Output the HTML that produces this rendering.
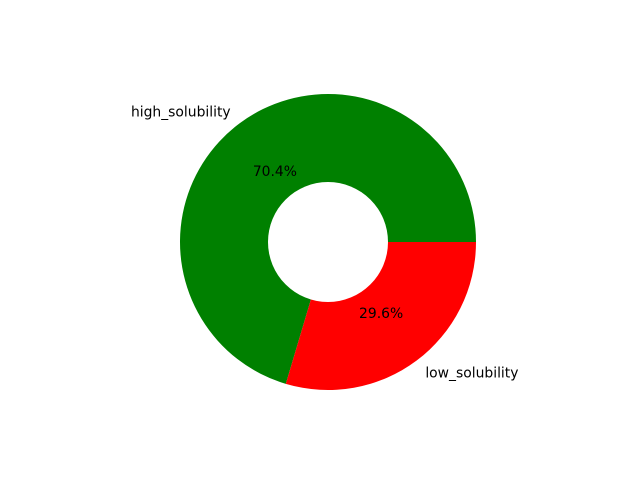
<!DOCTYPE html>
<html>
<head>
<meta charset="utf-8">
<style>
  html, body { margin: 0; padding: 0; background: #ffffff; }
  svg { display: block; }
  text { font-family: "DejaVu Sans", "Liberation Sans", sans-serif; font-size: 13.9px; fill: #000; }
</style>
</head>
<body>
<svg id="chart" width="640" height="480" viewBox="0 0 640 480" xmlns="http://www.w3.org/2000/svg">
  <rect x="0" y="0" width="640" height="480" fill="#ffffff"/>
  <g id="slices"></g>
  <circle cx="328" cy="242" r="60" fill="#ffffff"/>
  <g id="labels"></g>
</svg>
<script>
const categories = ["high_solubility", "low_solubility"];
const values = [70.4, 29.6];
const colors = ["#008000", "#ff0000"];

const cx = 328, cy = 242, R = 148;
const NS = "http://www.w3.org/2000/svg";
const total = values.reduce((a, b) => a + b, 0);
const slicesG = document.getElementById("slices");
const labelsG = document.getElementById("labels");

function pt(angleDeg, r) {
  const a = angleDeg * Math.PI / 180;
  return [cx + r * Math.cos(a), cy - r * Math.sin(a)];
}

let start = 0;
values.forEach((v, i) => {
  const sweep = v / total * 360;
  const end = start + sweep;
  const p0 = pt(start, R), p1 = pt(end, R);
  const large = sweep > 180 ? 1 : 0;
  const path = document.createElementNS(NS, "path");
  path.setAttribute("d", `M${cx},${cy} L${p0[0]},${p0[1]} A${R},${R} 0 ${large} 0 ${p1[0]},${p1[1]} Z`);
  path.setAttribute("fill", colors[i]);
  
  
  slicesG.appendChild(path);

  const mid = start + sweep / 2;
  const lp = pt(mid, R * 1.1);
  const lab = document.createElementNS(NS, "text");
  lab.textContent = categories[i];
  lab.setAttribute("x", lp[0]);
  lab.setAttribute("y", lp[1] + 1);
  lab.setAttribute("dominant-baseline", "central");
  lab.setAttribute("text-anchor", Math.cos(mid * Math.PI / 180) < 0 ? "end" : "start");
  
  
  labelsG.appendChild(lab);

  const pp = pt(mid, R * 0.6);
  const pct = document.createElementNS(NS, "text");
  pct.textContent = (v / total * 100).toFixed(1) + "%";
  pct.setAttribute("x", pp[0]);
  pct.setAttribute("y", pp[1] + 1);
  pct.setAttribute("dominant-baseline", "central");
  pct.setAttribute("text-anchor", "middle");
  
  
  labelsG.appendChild(pct);

  start = end;
});
</script>
</body>
</html>
